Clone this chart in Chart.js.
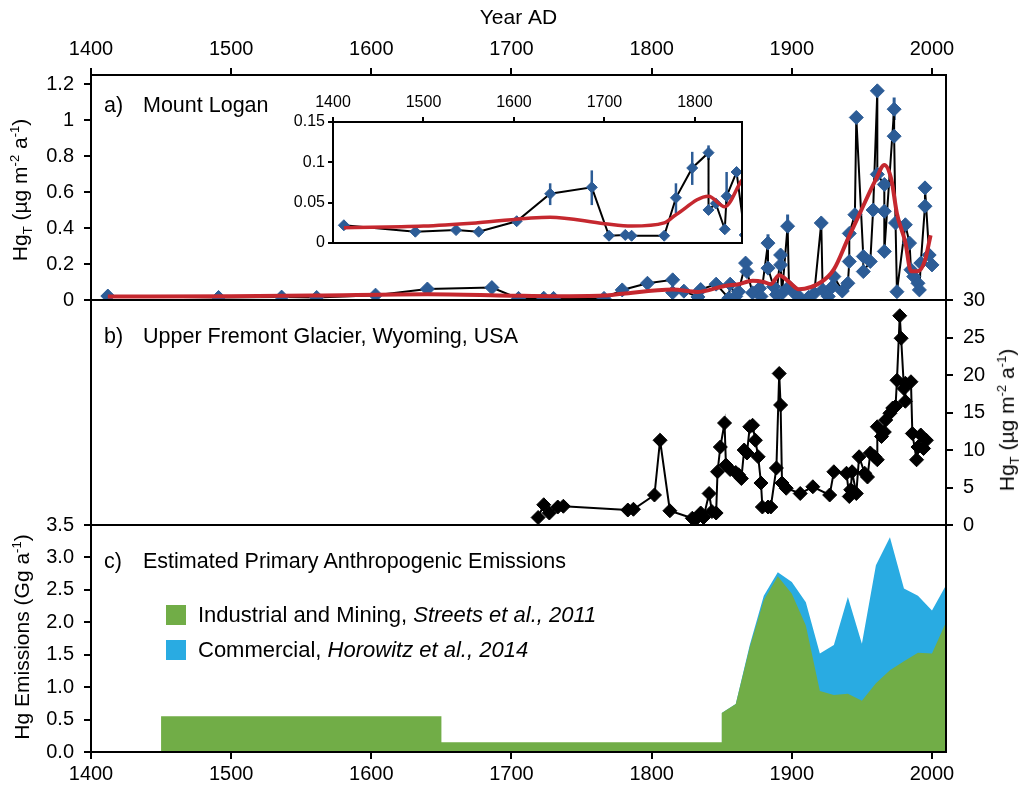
<!DOCTYPE html>
<html>
<head>
<meta charset="utf-8">
<script src="https://cdn.jsdelivr.net/npm/chart.js@4.4.1/dist/chart.umd.min.js"></script>
<style>
  body { margin: 0; background: #fff; }
  #wrap { position: relative; width: 1021px; height: 787px; overflow: hidden; font-family: "Liberation Sans", Arial, sans-serif; color: #000; }
  canvas { position: absolute; left: 0; top: 0; }
  .lbl { position: absolute; font-size: 21.5px; white-space: nowrap; line-height: 1; transform: translateY(-50%); }
  .lbl.key-text { font-size: 22px; }
  .ytitle { position: absolute; font-size: 21px; white-space: nowrap; line-height: 1; transform: translate(-50%, -50%) rotate(-90deg); }
  .ytitle sub, .ytitle sup { font-size: 13px; }
  .key { position: absolute; width: 20px; height: 20px; }
</style>
</head>
<body>
<div id="wrap">
  <canvas id="chartA" width="1021" height="787"></canvas>
  <canvas id="chartB" width="1021" height="787"></canvas>
  <canvas id="chartC" width="1021" height="787"></canvas>
  <canvas id="chartInset" width="1021" height="787"></canvas>

  <div class="lbl" style="left:104px; top:106px">a)</div>
  <div class="lbl" style="left:143px; top:106px">Mount Logan</div>
  <div class="lbl" style="left:104px; top:337px">b)</div>
  <div class="lbl" style="left:143px; top:337px">Upper Fremont Glacier, Wyoming, USA</div>
  <div class="lbl" style="left:104px; top:562px">c)</div>
  <div class="lbl" style="left:143px; top:562px">Estimated Primary Anthropogenic Emissions</div>

  <div class="key" style="left:166px; top:605px; background:#71ad47"></div>
  <div class="lbl key-text" style="left:198px; top:615px">Industrial and Mining, <i>Streets et al., 2011</i></div>
  <div class="key" style="left:166px; top:640px; background:#29abe2"></div>
  <div class="lbl key-text" style="left:198px; top:650px">Commercial, <i>Horowitz et al., 2014</i></div>

  <div class="ytitle" style="left:21px; top:190px">Hg<sub>T</sub> (µg m<sup>-2</sup> a<sup>-1</sup>)</div>
  <div class="ytitle" style="left:1008px; top:420px">Hg<sub>T</sub> (µg m<sup>-2</sup> a<sup>-1</sup>)</div>
  <div class="ytitle" style="left:21px; top:637px">Hg Emissions (Gg a<sup>-1</sup>)</div>
</div>
<script>
const yearTicks = [1400, 1500, 1600, 1700, 1800, 1900, 2000];
const insetYearTicks = [1400, 1500, 1600, 1700, 1800];
const loganTicks = [0, 0.2, 0.4, 0.6, 0.8, 1, 1.2];
const insetTicks = [0, 0.05, 0.1, 0.15];
const fremontTicks = [0, 5, 10, 15, 20, 25, 30];
const emissionTicks = [0, 0.5, 1, 1.5, 2, 2.5, 3, 3.5];

// a) Mount Logan, Hg flux
const loganYears = [1412, 1491, 1536, 1561, 1603, 1640, 1686, 1705, 1723, 1730, 1766, 1779, 1797, 1815, 1815,
  1823, 1833, 1835, 1846, 1855, 1856, 1860, 1862, 1867, 1868, 1872, 1877, 1878, 1883, 1883, 1887, 1889,
  1892, 1892, 1893, 1897, 1898, 1902, 1905, 1912, 1916, 1921, 1922, 1926, 1929, 1930, 1936, 1940, 1941,
  1941, 1945, 1946, 1951, 1951, 1956, 1958, 1961, 1961, 1966, 1966, 1966, 1973, 1973, 1974, 1975, 1981,
  1984, 1985, 1987, 1990, 1991, 1992, 1995, 1995, 1998, 2000];
const loganValues = [0.022, 0.014, 0.016, 0.014, 0.027, 0.061, 0.069, 0.009, 0.010, 0.009, 0.009, 0.056, 0.093, 0.112, 0.041,
  0.049, 0.017, 0.058, 0.088, 0.010, 0.088, 0.020, 0.046, 0.205, 0.158, 0.040, 0.065, 0.020, 0.316, 0.177, 0.074, 0.030,
  0.250, 0.195, 0.037, 0.410, 0.074, 0.037, 0.020, 0.015, 0.037, 0.428, 0.056, 0.020, 0.074, 0.130, 0.050, 0.093, 0.214,
  0.370, 0.474, 1.014, 0.242, 0.158, 0.214, 0.500, 1.162, 0.698, 0.642, 0.493, 0.270, 1.060, 0.910, 0.428, 0.046, 0.418,
  0.316, 0.168, 0.130, 0.093, 0.056, 0.205, 0.521, 0.623, 0.250, 0.195];
const smoothYears = [1412, 1500, 1560, 1640, 1700, 1730, 1766, 1779, 1815, 1833, 1852, 1862, 1872, 1880, 1885, 1891,
  1898, 1905, 1921, 1930, 1940, 1949, 1960, 1966, 1971, 1975, 1981, 1985, 1990, 1995, 1999];
const smoothValues = [0.019, 0.021, 0.025, 0.032, 0.024, 0.021, 0.025, 0.035, 0.058, 0.045, 0.078, 0.088, 0.107, 0.100, 0.088, 0.138,
  0.100, 0.060, 0.100, 0.170, 0.340, 0.490, 0.670, 0.750, 0.670, 0.480, 0.320, 0.160, 0.160, 0.220, 0.360];
const errYears = [1640, 1686, 1779, 1797, 1815, 1835, 1883, 1897, 1973];
const errLow = [0.047, 0.047, 0.037, 0.072, 0.103, 0.049, 0.290, 0.370, 1.000];
const errHigh = [0.074, 0.090, 0.074, 0.113, 0.121, 0.088, 0.365, 0.475, 1.125];

// b) Upper Fremont Glacier
const fremontYears = [1719, 1723, 1727, 1733, 1737, 1783, 1787, 1802, 1806, 1813, 1829, 1831, 1835, 1837, 1841, 1843,
  1846, 1847, 1849, 1852, 1853, 1856, 1860, 1862, 1864, 1866, 1868, 1870, 1872, 1874, 1876, 1878, 1879, 1883,
  1885, 1889, 1891, 1892, 1893, 1896, 1906, 1915, 1927, 1930, 1939, 1941, 1942, 1943, 1946, 1948, 1952, 1954,
  1956, 1959, 1961, 1961, 1964, 1966, 1967, 1970, 1972, 1974, 1975, 1977, 1978, 1980, 1981, 1981, 1985, 1986,
  1989, 1990, 1992, 1994, 1996];
const fremontValues = [1.0, 2.7, 1.6, 2.4, 2.5, 2.0, 2.1, 4.0, 11.3, 1.9, 0.9, 0.7, 1.6, 1.0, 4.2, 1.8,
  1.6, 7.1, 10.4, 13.6, 8.0, 7.4, 7.0, 6.7, 6.2, 10.0, 9.6, 13.1, 13.3, 11.3, 9.1, 5.6, 2.4, 2.4,
  2.4, 7.6, 20.2, 16.0, 5.6, 4.9, 4.2, 5.1, 4.0, 7.1, 6.9, 3.8, 4.7, 7.1, 4.2, 9.1, 6.9, 6.4,
  9.6, 9.1, 8.7, 13.1, 11.8, 12.4, 14.0, 14.9, 15.6, 15.8, 19.3, 27.9, 24.9, 18.2, 16.5, 18.9, 19.1, 12.2,
  8.7, 10.4, 12.0, 10.2, 11.3];

// c) emissions, Gg/a
const miningYears = [1450, 1450, 1650, 1650, 1850, 1850, 1860, 1870, 1880, 1890, 1900, 1910, 1920, 1930, 1940,
  1950, 1960, 1970, 1980, 1990, 2000, 2010];
const miningValues = [0, 0.55, 0.55, 0.15, 0.15, 0.60, 0.74, 1.62, 2.34, 2.71, 2.44, 1.95, 0.94, 0.88, 0.90,
  0.79, 1.06, 1.26, 1.40, 1.53, 1.52, 2.00];
const commercialYears = [1850, 1860, 1870, 1880, 1890, 1900, 1910, 1920, 1930, 1940, 1950, 1960, 1970, 1980, 1990, 2000, 2010];
const commercialValues = [0, 0, 0.03, 0.07, 0.06, 0.18, 0.36, 0.58, 0.77, 1.49, 0.88, 1.82, 2.05, 1.12, 0.88, 0.66, 0.57];

const blue = "#2c5c96";
const red = "#c5282f";
const green = "#71ad47";
const cyan = "#29abe2";

Chart.defaults.font.family = '"Liberation Sans", Arial, sans-serif';
Chart.defaults.font.size = 20;
Chart.defaults.color = "#000";

const pts = (xs, ys) => xs.map((x, i) => ({ x, y: ys[i] }));
const miningAt = (yr) => miningValues[miningYears.lastIndexOf(yr)];
const totalPts = commercialYears.map((yr, i) => ({ x: yr, y: commercialValues[i] + miningAt(yr) }));

const fixTicks = (list) => (scale) => { scale.ticks = list.map(v => ({ value: v })); };
const numLabel = (v) => String(+v.toFixed(2));
const tickGrid = (len) => ({ drawOnChartArea: false, color: "#000", lineWidth: 2, tickLength: len });
const axisBorder = { color: "#000", width: 2 };
const common = {
  responsive: false,
  animation: false,
  events: [],
  plugins: { legend: { display: false }, tooltip: { enabled: false } },
};

const frame = {
  id: "frame",
  beforeDraw(chart, args, opts) {
    if (!opts.fill) return;
    const { ctx, chartArea: a } = chart;
    ctx.save();
    ctx.fillStyle = opts.fill;
    ctx.fillRect(a.left, a.top, a.right - a.left, a.bottom - a.top);
    ctx.restore();
  },
  afterDatasetsDraw(chart) {
    const { ctx, chartArea: a } = chart;
    ctx.save();
    ctx.strokeStyle = "#000";
    ctx.lineWidth = 2;
    ctx.strokeRect(a.left, a.top, a.right - a.left, a.bottom - a.top);
    ctx.restore();
  }
};

const errorBars = {
  id: "errorBars",
  beforeDatasetsDraw(chart, args, opts) {
    const { ctx, chartArea: a, scales: { x, y } } = chart;
    ctx.save();
    ctx.beginPath();
    ctx.rect(a.left, a.top, a.right - a.left, a.bottom - a.top);
    ctx.clip();
    ctx.strokeStyle = blue;
    ctx.lineWidth = opts.width || 3;
    errYears.forEach((yr, i) => {
      const px = x.getPixelForValue(yr);
      ctx.beginPath();
      ctx.moveTo(px, y.getPixelForValue(errLow[i]));
      ctx.lineTo(px, y.getPixelForValue(errHigh[i]));
      ctx.stroke();
    });
    ctx.restore();
  }
};

function loganDatasets(radius, redWidth) {
  return [
    { data: pts(smoothYears, smoothValues), borderColor: red, borderWidth: redWidth, pointRadius: 0,
      cubicInterpolationMode: "monotone", fill: false },
    { data: pts(loganYears, loganValues), borderColor: "#000", borderWidth: 2, pointStyle: "rectRot",
      pointRadius: radius, pointBackgroundColor: blue, pointBorderColor: blue, pointBorderWidth: 1, fill: false }
  ];
}

// a) main panel
new Chart(document.getElementById("chartA"), {
  type: "line",
  data: { datasets: loganDatasets(7, 4) },
  options: {
    ...common,
    layout: { padding: { left: 0, top: 0, right: 75, bottom: 487 } },
    plugins: { ...common.plugins, errorBars: { width: 3 } },
    scales: {
      x: {
        type: "linear", position: "top", min: 1400, max: 2010,
        afterBuildTicks: fixTicks(yearTicks), afterFit: (s) => { s.height = 75; },
        ticks: { padding: 7, maxRotation: 0, autoSkip: false, callback: (v) => String(v) },
        grid: tickGrid(7), border: axisBorder,
        title: { display: true, text: "Year AD", font: { size: 21 }, padding: { top: 6, bottom: 0 } }
      },
      y: {
        min: 0, max: 1.25,
        afterBuildTicks: fixTicks(loganTicks), afterFit: (s) => { s.width = 91; },
        ticks: { padding: 10, callback: numLabel },
        grid: tickGrid(7), border: axisBorder
      }
    }
  },
  plugins: [frame, errorBars]
});

// a) inset, 1400-1850
new Chart(document.getElementById("chartInset"), {
  type: "line",
  data: { datasets: loganDatasets(5.5, 3.5) },
  options: {
    ...common,
    layout: { padding: { left: 273, top: 82, right: 279, bottom: 544 } },
    plugins: { ...common.plugins, frame: { fill: "#fff" }, errorBars: { width: 2.5 } },
    scales: {
      x: {
        type: "linear", position: "top", min: 1400, max: 1852,
        afterBuildTicks: fixTicks(insetYearTicks), afterFit: (s) => { s.height = 40; },
        ticks: { padding: 5, maxRotation: 0, autoSkip: false, font: { size: 16 }, callback: (v) => String(v) },
        grid: tickGrid(5), border: axisBorder
      },
      y: {
        min: 0, max: 0.15,
        afterBuildTicks: fixTicks(insetTicks), afterFit: (s) => { s.width = 60; },
        ticks: { padding: 3, font: { size: 16 }, callback: numLabel },
        grid: tickGrid(5), border: axisBorder
      }
    }
  },
  plugins: [frame, errorBars]
});

// b) Upper Fremont Glacier
new Chart(document.getElementById("chartB"), {
  type: "line",
  data: {
    datasets: [
      { data: pts(fremontYears, fremontValues), borderColor: "#000", borderWidth: 2, pointStyle: "rectRot",
        pointRadius: 7, pointBackgroundColor: "#000", pointBorderColor: "#000", pointBorderWidth: 1, fill: false }
    ]
  },
  options: {
    ...common,
    layout: { padding: { left: 91, top: 300, right: 0, bottom: 262 } },
    scales: {
      x: { type: "linear", display: false, min: 1400, max: 2010 },
      y: {
        position: "right", min: 0, max: 30,
        afterBuildTicks: fixTicks(fremontTicks), afterFit: (s) => { s.width = 75; },
        ticks: { padding: 10, callback: (v) => String(v) },
        grid: tickGrid(7), border: axisBorder
      }
    }
  },
  plugins: [frame]
});

// c) emissions
new Chart(document.getElementById("chartC"), {
  type: "line",
  data: {
    datasets: [
      { data: pts(miningYears, miningValues), borderWidth: 0, borderColor: green, backgroundColor: green,
        pointRadius: 0, fill: "origin", tension: 0 },
      { data: totalPts, borderWidth: 0, borderColor: cyan, backgroundColor: cyan,
        pointRadius: 0, fill: "origin", tension: 0 }
    ]
  },
  options: {
    ...common,
    layout: { padding: { left: 0, top: 525, right: 75, bottom: 0 } },
    scales: {
      x: {
        type: "linear", position: "bottom", min: 1400, max: 2010,
        afterBuildTicks: fixTicks(yearTicks), afterFit: (s) => { s.height = 35; },
        ticks: { padding: 3, maxRotation: 0, autoSkip: false, callback: (v) => String(v) },
        grid: tickGrid(7), border: axisBorder
      },
      y: {
        min: 0, max: 3.5,
        afterBuildTicks: fixTicks(emissionTicks), afterFit: (s) => { s.width = 91; },
        ticks: { padding: 10, callback: (v) => v.toFixed(1) },
        grid: tickGrid(7), border: axisBorder
      }
    }
  },
  plugins: [frame]
});
</script>
</body>
</html>
